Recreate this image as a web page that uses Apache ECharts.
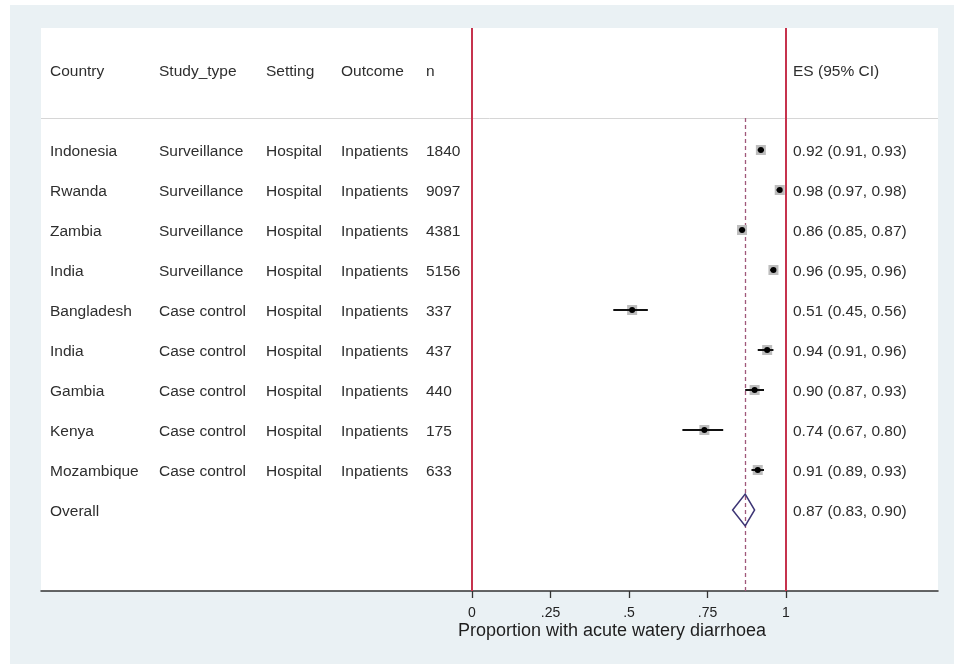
<!DOCTYPE html>
<html>
<head>
<meta charset="utf-8">
<script src="https://cdn.jsdelivr.net/npm/echarts@6/dist/echarts.min.js"></script>
<style>
html,body{margin:0;padding:0;background:#fff;}
#chart{width:961px;height:664px;}
</style>
</head>
<body>
<div id="chart"></div>
<script>
// ---------- data ----------
const countries  = ['Indonesia','Rwanda','Zambia','India','Bangladesh','India','Gambia','Kenya','Mozambique'];
const studyTypes = ['Surveillance','Surveillance','Surveillance','Surveillance','Case control','Case control','Case control','Case control','Case control'];
const settings   = ['Hospital','Hospital','Hospital','Hospital','Hospital','Hospital','Hospital','Hospital','Hospital'];
const outcomes   = ['Inpatients','Inpatients','Inpatients','Inpatients','Inpatients','Inpatients','Inpatients','Inpatients','Inpatients'];
const ns         = [1840, 9097, 4381, 5156, 337, 437, 440, 175, 633];
const es         = [0.92, 0.98, 0.86, 0.96, 0.51, 0.94, 0.90, 0.74, 0.91];
const lo         = [0.91, 0.97, 0.85, 0.95, 0.45, 0.91, 0.87, 0.67, 0.89];
const hi         = [0.93, 0.98, 0.87, 0.96, 0.56, 0.96, 0.93, 0.80, 0.93];
const overallLabel = 'Overall';
const overallES = 0.87, overallLo = 0.83, overallHi = 0.90;
const headers = ['Country','Study_type','Setting','Outcome','n'];
const esHeader = 'ES (95% CI)';
const tickValues = [0, 0.25, 0.5, 0.75, 1];
const xTitle = 'Proportion with acute watery diarrhoea';

// ---------- layout (pixels) ----------
const gridLeft = 41, gridRight = 938, gridTop = 28, gridBottom = 591;
const zeroPx = 472, onePx = 786;
const colX = [50, 159, 266, 341, 426];
const esColX = 793;
const unit = onePx - zeroPx;
const xMin = -(zeroPx - gridLeft) / unit;
const xMax = (gridRight - zeroPx) / unit;
const yMin = -3.05, yMax = 11.025, headerRow = -2, sepRow = -0.8;

const txtFont = "Liberation Sans, Arial, sans-serif";
const txtColor = '#2e2e2e';
const red = '#c6334d';

function fmt(v){ return v.toFixed(2); }

const rowCount = countries.length + 1;
const rowData = [];
for (let i = 0; i < rowCount; i++) rowData.push([0, i]);

function textEl(x, y, s){
  return {type:'text', x:x, y:y + 1.5, style:{text:s, fill:txtColor, fontSize:15.5, fontFamily:txtFont, align:'left', verticalAlign:'middle'}};
}

const chart = echarts.init(document.getElementById('chart'), null, {renderer:'canvas'});
chart.setOption({
  animation:false,
  backgroundColor:'#ffffff',
  graphic:[
    {type:'rect', z:-100, shape:{x:10, y:5, width:944, height:659}, style:{fill:'#eaf1f4'}},
    {type:'text', x:612, y:631, z:100,
     style:{text:xTitle, fill:'#1e1e1e', fontSize:18, fontFamily:txtFont, align:'center', verticalAlign:'middle'}}
  ],
  grid:{left:gridLeft, top:gridTop, width:gridRight-gridLeft, height:gridBottom-gridTop,
        show:true, backgroundColor:'#ffffff', borderWidth:0, containLabel:false},
  xAxis:{type:'value', min:xMin, max:xMax,
    axisLine:{show:true, onZero:false, lineStyle:{color:'#333', width:1.5}},
    axisTick:{show:true, length:7, customValues:tickValues, lineStyle:{color:'#333', width:1.3}},
    axisLabel:{show:true, customValues:tickValues, margin:15, color:'#222', fontSize:14, fontFamily:txtFont,
      formatter:function(v){ var s = String(+v.toFixed(2)); return s.replace(/^0\./,'.'); }},
    splitLine:{show:false}},
  yAxis:{type:'value', inverse:true, min:yMin, max:yMax, show:false, splitLine:{show:false}},
  series:[
    { // table text
      type:'custom', data:rowData, encode:{x:0,y:1}, z:5,
      renderItem:function(params, api){
        const i = api.value(1);
        const y = api.coord([0, i])[1];
        const kids = [];
        if (i < countries.length) {
          kids.push(textEl(colX[0], y, countries[i]));
          kids.push(textEl(colX[1], y, studyTypes[i]));
          kids.push(textEl(colX[2], y, settings[i]));
          kids.push(textEl(colX[3], y, outcomes[i]));
          kids.push(textEl(colX[4], y, String(ns[i])));
          kids.push(textEl(esColX, y, fmt(es[i]) + ' (' + fmt(lo[i]) + ', ' + fmt(hi[i]) + ')'));
        } else {
          kids.push(textEl(colX[0], y, overallLabel));
          kids.push(textEl(esColX, y, fmt(overallES) + ' (' + fmt(overallLo) + ', ' + fmt(overallHi) + ')'));
        }
        return {type:'group', children:kids};
      },
      markLine:{silent:true, symbol:'none', label:{show:false},
        data:[
          {yAxis:sepRow, lineStyle:{color:'#d6d6d6', width:1, type:'solid'}},
          {xAxis:0, lineStyle:{color:red, width:2, type:'solid'}},
          {xAxis:1, lineStyle:{color:red, width:2, type:'solid'}},
          [{coord:[overallES, sepRow], lineStyle:{color:'#a0587a', width:1.3, type:[4,3]}}, {coord:[overallES, yMax]}]
        ]}
    },
    { // headers
      type:'custom', data:[[0, headerRow]], encode:{x:0,y:1}, z:5,
      renderItem:function(params, api){
        const y = api.coord([0, headerRow])[1];
        const kids = headers.map(function(h, k){ return textEl(colX[k], y, h); });
        kids.push(textEl(esColX, y, esHeader));
        return {type:'group', children:kids};
      }
    },
    { // study estimates
      type:'custom', z:10,
      data: es.map(function(v, i){ return [i, v, lo[i], hi[i]]; }),
      encode:{y:0, x:[1,2,3]},
      renderItem:function(params, api){
        const i = api.value(0);
        const pe = api.coord([api.value(1), i]);
        const pl = api.coord([api.value(2), i]);
        const ph = api.coord([api.value(3), i]);
        return {type:'group', children:[
          {type:'rect', shape:{x:pe[0]-5, y:pe[1]-5, width:10, height:10}, style:{fill:'#bdbdbd'}},
          {type:'line', shape:{x1:pl[0], y1:pl[1], x2:ph[0], y2:ph[1]}, style:{stroke:'#111', lineWidth:2}},
          {type:'circle', shape:{cx:pe[0], cy:pe[1], r:3}, style:{fill:'#000'}}
        ]};
      }
    },
    { // overall diamond
      type:'custom', z:10,
      data:[[countries.length, overallES, overallLo, overallHi]],
      encode:{y:0, x:[1,2,3]},
      renderItem:function(params, api){
        const r = api.value(0);
        const pe = api.coord([api.value(1), r]);
        const pl = api.coord([api.value(2), r]);
        const ph = api.coord([api.value(3), r]);
        const h = 16;
        return {type:'polygon', shape:{points:[[pl[0],pl[1]],[pe[0],pe[1]-h],[ph[0],ph[1]],[pe[0],pe[1]+h]]},
          style:{fill:'none', stroke:'#3d3575', lineWidth:1.5}};
      }
    }
  ]
});
</script>
</body>
</html>
